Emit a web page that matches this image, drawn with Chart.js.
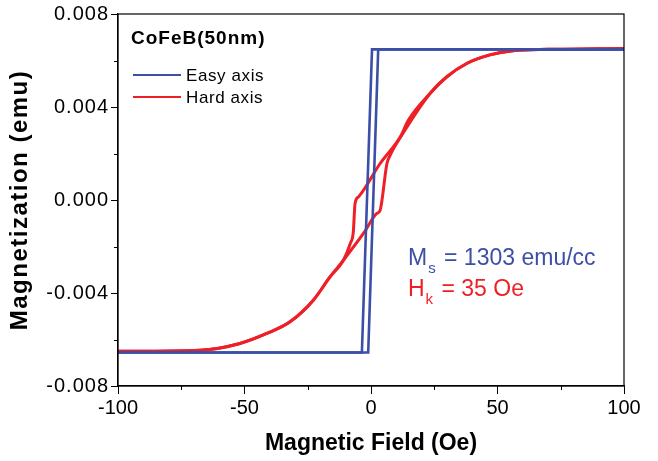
<!DOCTYPE html>
<html>
<head>
<meta charset="utf-8">
<script src="https://cdn.jsdelivr.net/npm/chart.js@4.4.1/dist/chart.umd.min.js"></script>
<style>
html,body{margin:0;padding:0;background:#fff;}
#wrap{width:658px;height:461px;}
</style>
</head>
<body>
<div id="wrap"><canvas id="loopChart" width="658" height="461"></canvas></div>
<script>

/* data: field in Oe, moment in emu */

const easyDownH = [100, 0.4, -3.6, -100];
const easyDownM = [0.00648, 0.00648, -0.00656, -0.00656];

const easyUpH = [-100, -1.1, 2.85, 100];
const easyUpM = [-0.00656, -0.00656, 0.00648, 0.00648];

const hardDownH = [100, 70, 56, 47, 38, 30, 23.4, 14.8, 11.6, 3.6, -4.9, -6.3, -7.0, -8.2, -10.9, -16.2, -22.8, -32, -41.2, -51.8, -67.6, -100];
const hardDownM = [0.00652, 0.00648, 0.00642, 0.00624, 0.00588, 0.0053, 0.00459, 0.00344, 0.00272, 0.00157, 0.00014, -0.00015, -0.00138, -0.00187, -0.00259, -0.00331, -0.00431, -0.00524, -0.00574, -0.00617, -0.00646, -0.00651];

const hardUpH = [-100, -67.6, -51.8, -41.2, -32, -22.8, -16.2, -10.9, -3.0, 2.3, 3.6, 6.3, 7.6, 12.7, 23.4, 30, 38, 47, 56, 70, 100];
const hardUpM = [-0.00651, -0.00646, -0.00617, -0.00574, -0.00524, -0.00431, -0.00331, -0.00259, -0.00144, -0.00058, -0.00044, 0.00157, 0.00193, 0.00288, 0.00459, 0.0053, 0.00588, 0.00624, 0.00642, 0.00648, 0.00652];

const xMajor = [-100, -50, 0, 50, 100];
const xMinor = [-75, -25, 25, 75];
const yMajor = [-0.008, -0.004, 0, 0.004, 0.008];
const yMinor = [-0.006, -0.002, 0.002, 0.006];
const yTickText = ["-0.008", "-0.004", "0.000", "0.004", "0.008"];

const BLUE = "#3b4fa6";
const RED = "#ee1f26";
const FONT = "'Liberation Sans', Arial, sans-serif";


function pts(hs, ms){
return hs.map((h,i)=>({x:h, y:ms[i]}));
}


/* the picture's lettering is a bit wider than Arial, so space it out */

function spaceOut(scale, method, spacing){
const orig = scale[method].bind(scale);
scale[method] = function(){
const c = scale.ctx;
c.save();
c.letterSpacing = spacing;
orig.apply(null, arguments);
c.restore();
};
}


/* frame, minor ticks, legend and notes */

const extras = {
id: "extras",
afterLayout(chart){
const ys = chart.scales.y;
if(ys && !ys._spaced){
spaceOut(ys, "drawLabels", "1px");
spaceOut(ys, "drawTitle", "1.5px");
ys._spaced = true;
}
},
afterDraw(chart){

const c = chart.ctx;
const a = chart.chartArea;
const xs = chart.scales.x;
const ys = chart.scales.y;

c.save();

c.strokeStyle = "#000";
c.lineWidth = 1.2;
c.strokeRect(a.left, a.top, a.right - a.left, a.bottom - a.top);

// minor ticks
c.lineWidth = 1;
c.beginPath();
xMinor.forEach(v=>{
let px = Math.round(xs.getPixelForValue(v)) + 0.5;
c.moveTo(px, a.bottom);
c.lineTo(px, a.bottom + 4);
});
yMinor.forEach(v=>{
let py = Math.round(ys.getPixelForValue(v)) + 0.5;
c.moveTo(a.left, py);
c.lineTo(a.left - 4, py);
});
c.stroke();

// sample name
c.fillStyle = "#000";
c.textBaseline = "alphabetic";
c.textAlign = "left";
c.letterSpacing = "1px";
c.font = "bold 19px " + FONT;
c.fillText("CoFeB(50nm)", 131, 44);

// legend
const items = [
{label: "Easy axis", color: BLUE, y: 75},
{label: "Hard axis", color: RED, y: 97}
];
c.letterSpacing = "0.6px";
c.font = "17px " + FONT;
items.forEach(it=>{
c.strokeStyle = it.color;
c.lineWidth = 2;
c.beginPath();
c.moveTo(133, it.y);
c.lineTo(181, it.y);
c.stroke();
c.fillStyle = "#000";
c.fillText(it.label, 186, it.y + 6);
});
c.letterSpacing = "0px";

// Ms and Hk notes
function note(main, sub, rest, color, x, y){
c.fillStyle = color;
c.font = "23px " + FONT;
c.fillText(main, x, y);
let w = c.measureText(main).width;
c.font = "15px " + FONT;
c.fillText(sub, x + w + 1, y + 8);
let w2 = c.measureText(sub).width;
c.font = "23px " + FONT;
c.fillText(rest, x + w + w2 + 3, y);
}
note("M", "s", " = 1303 emu/cc", BLUE, 408, 265);
note("H", "k", " = 35 Oe", RED, 408, 296);

c.restore();

}
};


const ctx = document.getElementById("loopChart").getContext("2d");

const lineStyle = {
showLine: true,
pointRadius: 0,
fill: false
};

const chart = new Chart(ctx, {
type: "scatter",
data: {
datasets: [
Object.assign({label: "Easy axis", data: pts(easyDownH, easyDownM), borderColor: BLUE, borderWidth: 2.6, tension: 0}, lineStyle),
Object.assign({label: "Easy axis up", data: pts(easyUpH, easyUpM), borderColor: BLUE, borderWidth: 2.6, tension: 0}, lineStyle),
Object.assign({label: "Hard axis", data: pts(hardDownH, hardDownM), borderColor: RED, borderWidth: 3, cubicInterpolationMode: "monotone"}, lineStyle),
Object.assign({label: "Hard axis up", data: pts(hardUpH, hardUpM), borderColor: RED, borderWidth: 3, cubicInterpolationMode: "monotone"}, lineStyle)
]
},
options: {
responsive: false,
animation: false,
events: [],
layout: {padding: {top: 14, right: 34, left: 0, bottom: 0}},
plugins: {
legend: {display: false},
tooltip: {enabled: false}
},
scales: {
x: {
type: "linear",
min: -100,
max: 100,
afterBuildTicks: s => { s.ticks = xMajor.map(v=>({value:v})); },
afterFit: s => { s.height = 75; },
grid: {drawOnChartArea: false, drawTicks: true, tickLength: 8, color: "#000"},
border: {display: true, color: "#000", width: 1.2},
ticks: {color: "#000", font: {family: FONT, size: 20}, padding: 2, maxRotation: 0},
title: {display: true, text: "Magnetic Field (Oe)", color: "#000", font: {family: FONT, size: 23, weight: "bold"}, padding: {top: 8}}
},
y: {
type: "linear",
min: -0.008,
max: 0.008,
afterBuildTicks: s => { s.ticks = yMajor.map(v=>({value:v})); },
afterFit: s => { s.width = 118; },
grid: {drawOnChartArea: false, drawTicks: true, tickLength: 7, color: "#000"},
border: {display: true, color: "#000", width: 1.2},
ticks: {
color: "#000",
font: {family: FONT, size: 20},
padding: 2,
callback: v => yTickText[yMajor.indexOf(v)]
},
title: {display: true, text: "Magnetization (emu)", color: "#000", font: {family: FONT, size: 24, weight: "bold"}, padding: {top: 6}}
}
}
},
plugins: [extras]
});

</script>
</body>
</html>
